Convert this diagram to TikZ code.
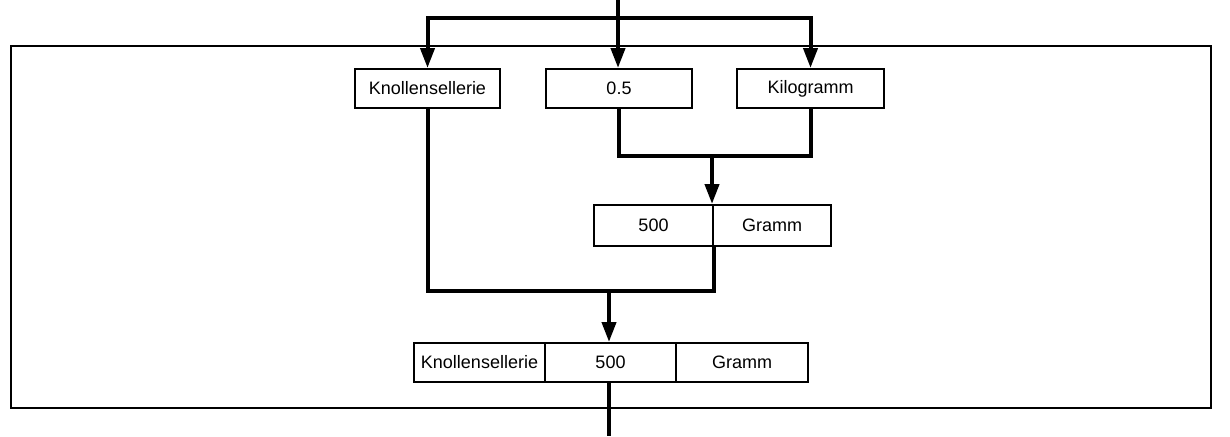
\documentclass[tikz,border=0pt]{standalone}
\usepackage{fontspec}
\setmainfont{Liberation Sans}
\usetikzlibrary{arrows.meta}
\begin{document}
\begin{tikzpicture}[x=0.75pt,y=-0.75pt,
	every node/.style={font=\fontsize{13.5}{16}\selectfont},
	box/.style={draw,line width=1.5pt,minimum height=29.25pt,inner sep=1pt},
	wire/.style={line width=3pt},
	arr/.style={wire,-{Triangle[length=15pt,width=10.5pt]}}]
\useasboundingbox (0,0) rectangle (1230,436);
\draw[line width=1.5pt] (11,46) rectangle (1211,408);
\node[box,minimum width=108.75pt] (knolle) at (427.5,88.5) {Knollensellerie};
\node[box,minimum width=109.5pt] (menge) at (619,88.5) {0.5};
\node[box,minimum width=110.25pt] (einheit) at (810.5,88.5) {Kilogramm};
\node[box,minimum width=89.25pt,minimum height=30.75pt] (gmenge) at (653.5,225.5) {500};
\node[box,minimum width=88.5pt,minimum height=30.75pt] (geinheit) at (772,225.5) {Gramm};
\node[box,minimum width=98.25pt] (rname) at (479.5,362.5) {Knollensellerie};
\node[box,minimum width=98.25pt] (rmenge) at (610.5,362.5) {500};
\node[box,minimum width=99pt] (reinheit) at (742,362.5) {Gramm};
\coordinate (ein) at (618,0);
\coordinate (split) at (618,18);
\coordinate (join1) at (712,156);
\coordinate (join2) at (609,291);
\coordinate (aus) at (609,436);
\draw[wire] (ein) -- (split);
\draw[arr] (split) -| (knolle.north);
\draw[arr] (split) -| (einheit.north);
\draw[arr] (split) -- (split |- menge.north);
\draw[wire] (menge.south) |- (join1) -| (einheit.south);
\draw[arr] (join1) -- (join1 |- gmenge.north);
\draw[wire] (knolle.south) |- (join2) -| (gmenge.south east);
\draw[arr] (join2) -- (join2 |- rmenge.north);
\draw[wire] (aus |- rmenge.south) -- (aus);
\end{tikzpicture}
\end{document}
